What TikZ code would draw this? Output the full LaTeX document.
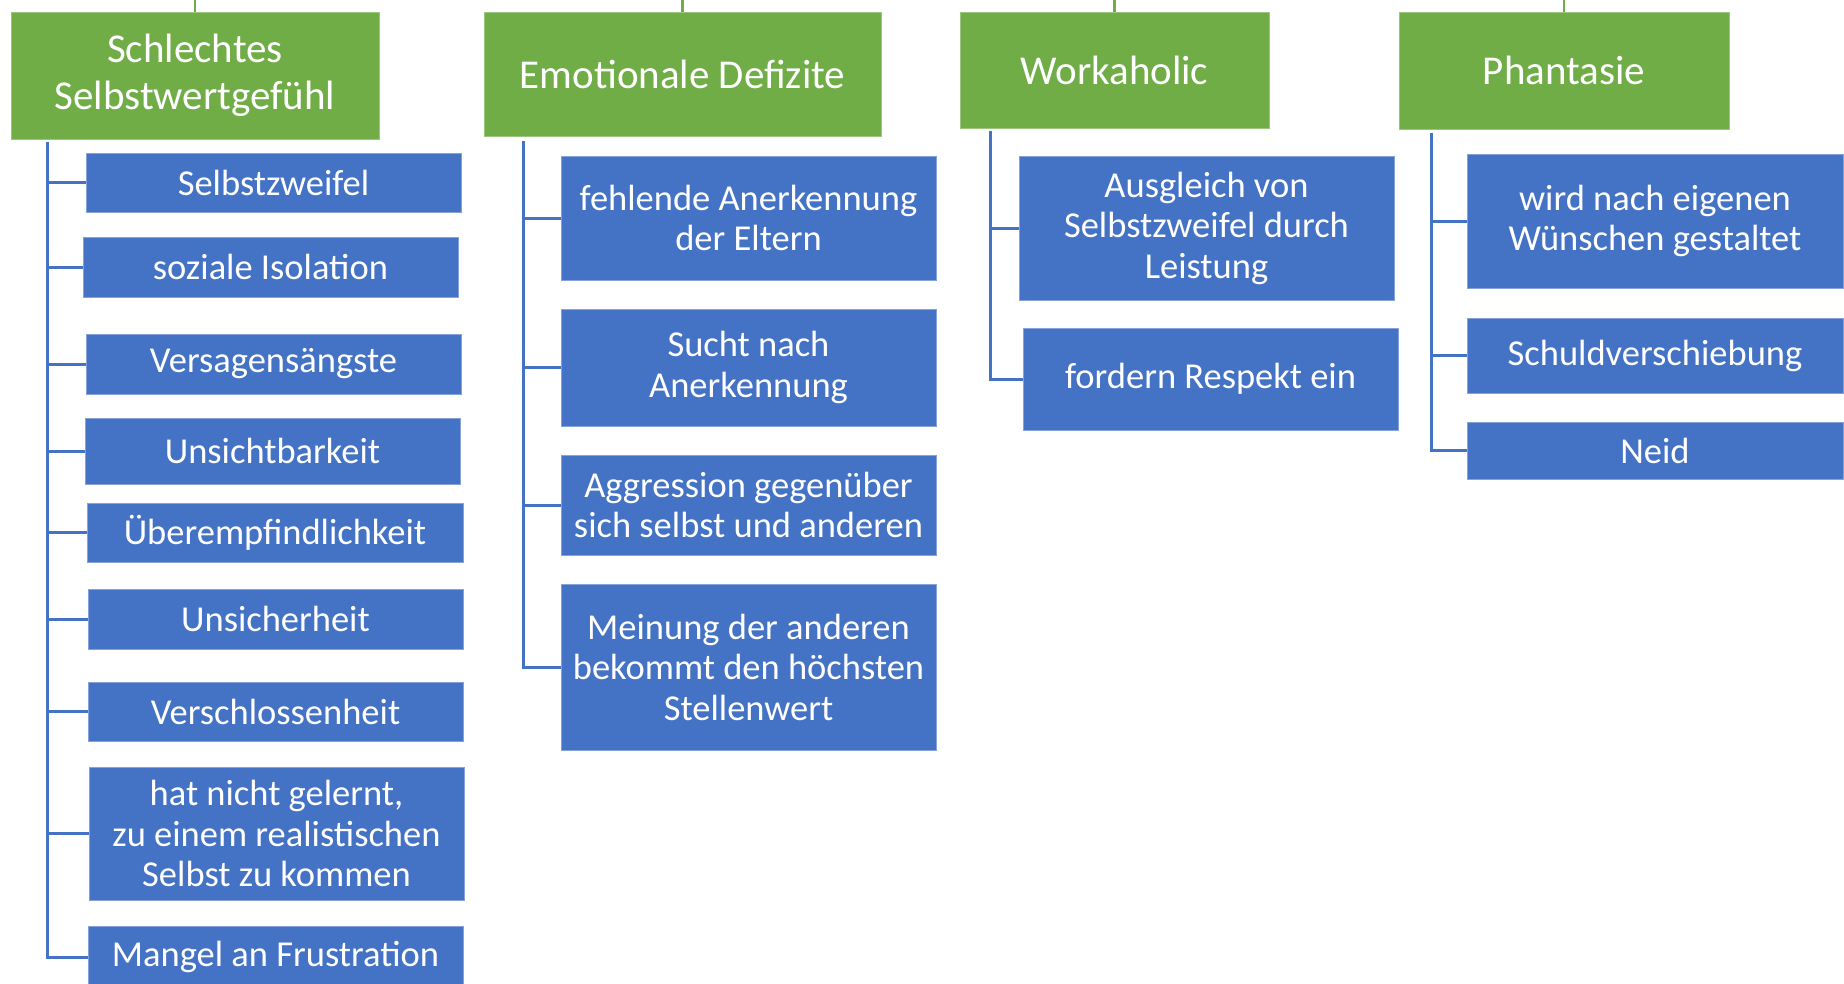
\documentclass[tikz,border=0pt]{standalone}
\usepackage{fontspec}
\setmainfont{Carlito}
\definecolor{hdrgreen}{HTML}{70AD47}
\definecolor{itemblue}{HTML}{4472C4}
\begin{document}
\begin{tikzpicture}[x=1pt,y=-1pt,
  box/.style={anchor=north west, inner sep=0pt, outer sep=0pt, align=center, text=white, line width=0.8pt},
  hdr/.style={box, fill=hdrgreen, draw=hdrgreen!70!white, font=\fontsize{41}{47}\selectfont},
  item/.style={box, fill=itemblue, draw=itemblue!65!white, font=\fontsize{36.5}{40.5}\selectfont},
  conn/.style={draw=itemblue, line width=3pt},
  stub/.style={draw=hdrgreen, line width=2.5pt}]
\useasboundingbox (0,0) rectangle (1844,983);
\coordinate (topedge) at (0,-10);

% ---------- headers ----------
\node[hdr, minimum width=368pt, minimum height=127pt] (h1) at (11,12) {Schlechtes\\Selbstwertgefühl};
\node[hdr, minimum width=397pt, minimum height=124pt] (h2) at (484,12) {Emotionale Defizite};
\node[hdr, minimum width=309pt, minimum height=116pt] (h3) at (960,12) {Workaholic};
\node[hdr, minimum width=330pt, minimum height=117pt] (h4) at (1399,12) {Phantasie};

\foreach \h in {h1,h2,h3,h4}
  \draw[stub] (\h.north) -- (\h.north |- topedge);

% ---------- column 1 ----------
\node[item, minimum width=375pt, minimum height=59pt]  (a1) at (86,153)  {Selbstzweifel};
\node[item, minimum width=375pt, minimum height=60pt]  (a2) at (83,237)  {soziale Isolation};
\node[item, minimum width=375pt, minimum height=60pt]  (a3) at (86,334)  {Versagensängste};
\node[item, minimum width=375pt, minimum height=66pt]  (a4) at (85,418)  {Unsichtbarkeit};
\node[item, minimum width=376pt, minimum height=59pt]  (a5) at (87,503)  {Überempfindlichkeit};
\node[item, minimum width=375pt, minimum height=60pt]  (a6) at (88,589)  {Unsicherheit};
\node[item, minimum width=375pt, minimum height=59pt]  (a7) at (88,682)  {Verschlossenheit};
\node[item, minimum width=375pt, minimum height=133pt] (a8) at (89,767)  {hat nicht gelernt,\\zu einem realistischen\\Selbst zu kommen};
\node[item, minimum width=375pt, minimum height=62pt]  (a9) at (88,926)  {Mangel an Frustration};

\coordinate (s1) at (47,142);
\foreach \n in {a1,a2,a3,a4,a5,a6,a7,a8,a9}
  \draw[conn] (s1) |- (\n.west);

% ---------- column 2 ----------
\node[item, minimum width=375pt, minimum height=124pt] (b1) at (561,156) {fehlende Anerkennung\\der Eltern};
\node[item, minimum width=375pt, minimum height=117pt] (b2) at (561,309) {Sucht nach\\Anerkennung};
\node[item, minimum width=375pt, minimum height=100pt] (b3) at (561,455) {Aggression gegenüber\\sich selbst und anderen};
\node[item, minimum width=375pt, minimum height=166pt] (b4) at (561,584) {Meinung der anderen\\bekommt den höchsten\\Stellenwert};

\coordinate (s2) at (523,141);
\foreach \n in {b1,b2,b3,b4}
  \draw[conn] (s2) |- (\n.west);

% ---------- column 3 ----------
\node[item, minimum width=375pt, minimum height=144pt] (c1) at (1019,156) {Ausgleich von\\Selbstzweifel durch\\Leistung};
\node[item, minimum width=375pt, minimum height=102pt] (c2) at (1023,328) {fordern Respekt ein};

\coordinate (s3) at (990,131);
\foreach \n in {c1,c2}
  \draw[conn] (s3) |- (\n.west);

% ---------- column 4 ----------
\node[item, minimum width=376pt, minimum height=134pt] (d1) at (1467,154) {wird nach eigenen\\Wünschen gestaltet};
\node[item, minimum width=376pt, minimum height=75pt]  (d2) at (1467,318) {Schuldverschiebung};
\node[item, minimum width=376pt, minimum height=57pt]  (d3) at (1467,422) {Neid};

\coordinate (s4) at (1431,133);
\foreach \n in {d1,d2,d3}
  \draw[conn] (s4) |- (\n.west);
\end{tikzpicture}
\end{document}
